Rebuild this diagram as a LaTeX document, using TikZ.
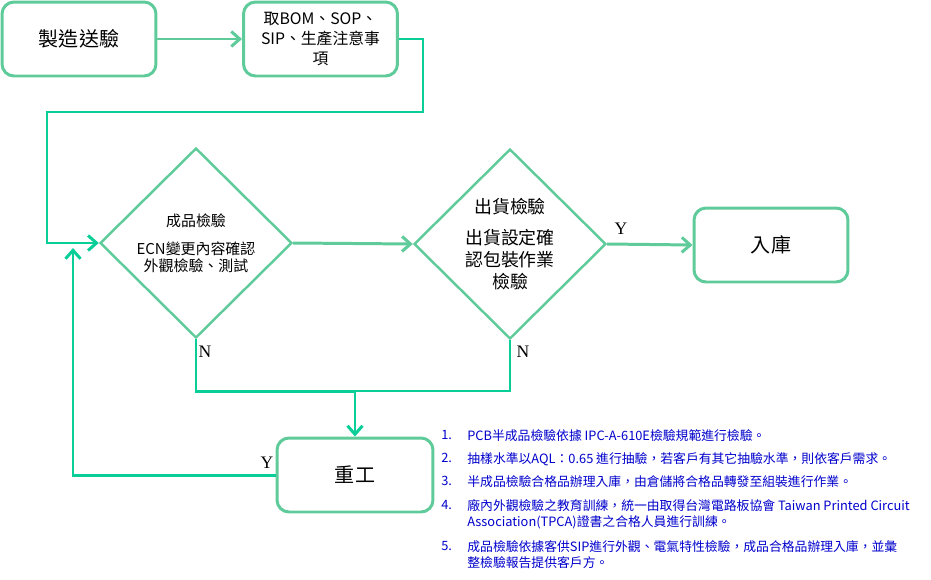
\documentclass[tikz,border=0pt]{standalone}
\usepackage{fontspec}
\setmainfont{Noto Sans CJK TC}
\newfontfamily\yesnofont{Liberation Serif}
\usetikzlibrary{shapes.geometric,arrows.meta}
\definecolor{boxgreen}{RGB}{96,203,154}
\definecolor{linkgreen}{RGB}{10,206,152}
\definecolor{noteblue}{RGB}{0,0,204}
\tikzset{
  flowbox/.style={draw=boxgreen, line width=1.7pt, rounded corners=0.24cm,
    minimum width=3.08cm, minimum height=1.48cm, align=center, inner sep=1pt},
  decision/.style={diamond, draw=boxgreen, line width=1.4pt, minimum width=3.84cm,
    minimum height=3.8cm, inner sep=0pt, align=center},
  flow/.style={-{Straight Barb[length=0.17cm,width=0.3cm]}, line width=1.7pt},
  yesno/.style={font=\yesnofont\fontsize{10pt}{12pt}\selectfont},
  noteno/.style={anchor=west, text=noteblue, font=\fontsize{7.3pt}{9.1pt}\selectfont, inner sep=0pt},
  notetext/.style={anchor=north west, text=noteblue, align=left,
    font=\fontsize{7.3pt}{9.1pt}\selectfont, inner sep=0pt}
}
\begin{document}
\begin{tikzpicture}[x=0.02cm, y=-0.02cm]
  \useasboundingbox (0,0) rectangle (931,579);
  \node[flowbox, font=\fontsize{11.4pt}{13pt}\selectfont] (make) at (79,39) {製造送驗};
  \node[flowbox, font=\fontsize{9pt}{11.4pt}\selectfont] (docs) at (320.5,39)
    {取BOM、SOP、\\SIP、生產注意事\\項};
  \node[decision, font=\fontsize{8.5pt}{9.7pt}\selectfont] (final) at (196,243)
    {成品檢驗\\[6pt]ECN變更內容確認\\外觀檢驗、測試};
  \node[decision, font=\fontsize{10.2pt}{12.5pt}\selectfont] (ship) at (510,244)
    {出貨檢驗\\[5pt]出貨設定確\\認包裝作業\\檢驗};
  \node[flowbox, font=\fontsize{11.4pt}{13pt}\selectfont] (store) at (771,245) {入庫};
  \node[flowbox, minimum width=3.12cm, font=\fontsize{11.4pt}{13pt}\selectfont] (rework) at (355,475) {重工};
  % 꺾이는 연결선의 모서리 점
  \coordinate (turnA) at (423,112);
  \coordinate (turnB) at (47,243);
  \coordinate (joinN) at (355,391);
  \coordinate (backY) at (73,248);
  \draw[flow, boxgreen] (make) -- (docs);
  \draw[flow, linkgreen] (docs.east) -| (turnA) -| (turnB) -- (final.west);
  \draw[flow, boxgreen] (final.east) -- (ship.west);
  \draw[flow, boxgreen] (ship.east) -- (store.west);
  \draw[linkgreen, line width=0.7pt] (ship.south) |- (joinN);
  \draw[flow, linkgreen] (final.south) |- (joinN) -- (rework.north);
  \draw[flow, linkgreen] (rework.west) -| (backY);
  \node[yesno] (yship) at (621,229) {Y};
  \node[yesno] (nfinal) at (205,352) {N};
  \node[yesno] (nship) at (523,352) {N};
  \node[yesno] (yrework) at (267,463) {Y};
  % 참고 사항
  \foreach \n/\y in {1/435,2/458,3/481,4/505,5/546}
    \node[noteno] (no\n) at (441,\y) {\n.};
  \node[notetext] (note1) at (467,429) {PCB半成品檢驗依據 IPC-A-610E檢驗規範進行檢驗。};
  \node[notetext] (note2) at (467,452) {抽樣水準以AQL：0.65 進行抽驗，若客戶有其它抽驗水準，則依客戶需求。};
  \node[notetext] (note3) at (467,475) {半成品檢驗合格品辦理入庫，由倉儲將合格品轉發至組裝進行作業。};
  \node[notetext] (note4) at (467,499) {廠內外觀檢驗之教育訓練，統一由取得台灣電路板協會 Taiwan Printed Circuit\\Association(TPCA)證書之合格人員進行訓練。};
  \node[notetext] (note5) at (467,540) {成品檢驗依據客供SIP進行外觀、電氣特性檢驗，成品合格品辦理入庫，並彙\\整檢驗報告提供客戶方。};
\end{tikzpicture}
\end{document}
